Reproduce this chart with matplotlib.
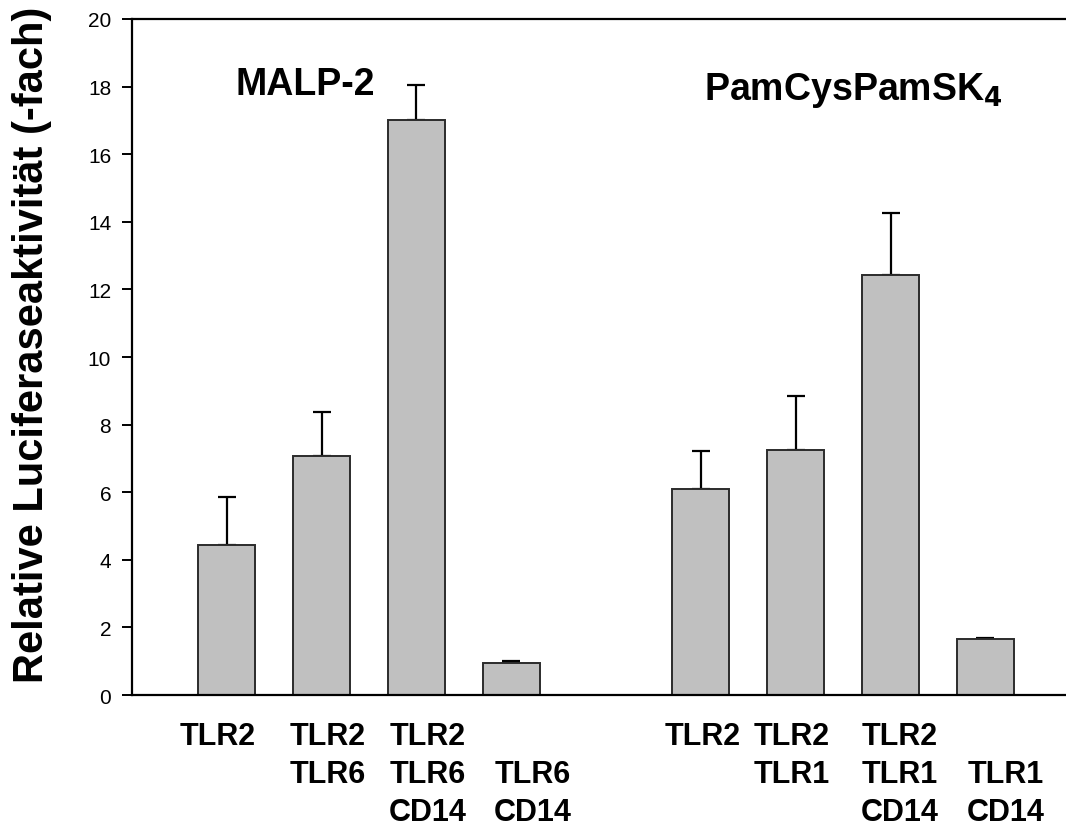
import matplotlib.pyplot as plt
import numpy as np

plt.rcParams['font.family'] = ['Liberation Sans', 'DejaVu Sans']

# Balken-Positionen (zwei Gruppen mit Lücke dazwischen)
positions = [0, 1, 2, 3, 5, 6, 7, 8]
means = [4.45, 7.07, 17.02, 0.95, 6.1, 7.25, 12.42, 1.65]
errors = [1.42, 1.30, 1.04, 0.05, 1.12, 1.59, 1.85, 0.05]

labels = ['TLR2', 'TLR2\nTLR6', 'TLR2\nTLR6\nCD14', '\nTLR6\nCD14',
          'TLR2', 'TLR2\nTLR1', 'TLR2\nTLR1\nCD14', '\nTLR1\nCD14']
label_shift = [-0.10, 0.06, 0.12, 0.23, 0.02, -0.04, 0.10, 0.21]

fig = plt.figure(figsize=(10.66, 8.29), dpi=100)
ax = fig.add_axes([0.1238, 0.1604, 0.8762, 0.8155])

ax.bar(positions, means, width=0.6, color='#c0c0c0', edgecolor='#2b2b2b',
       linewidth=1.4, zorder=2)
ax.errorbar(positions, means, yerr=[np.zeros(len(errors)), errors], fmt='none',
            ecolor='black', elinewidth=1.6, capsize=6.5, capthick=1.6, zorder=1)

ax.set_xlim(-1, 8.85)
ax.set_ylim(0, 20)
ax.set_yticks(range(0, 21, 2))
ax.tick_params(axis='y', direction='out', length=7, width=1.4, labelsize=15, pad=8)
ax.set_xticks([])

for s in ['left', 'top', 'bottom']:
    ax.spines[s].set_linewidth(1.6)
ax.spines['right'].set_visible(False)

# Beschriftung unter den Balken
trans = ax.get_xaxis_transform()
for x, lab, dx in zip(positions, labels, label_shift):
    ax.text(x + dx, -0.038, lab, transform=trans, ha='center', va='top',
            fontsize=22, fontweight='bold', linespacing=1.36)

ax.text(0.186, 0.904, 'MALP-2', transform=ax.transAxes, fontsize=27,
        fontweight='bold', ha='center', va='center')
ax.text(0.772, 0.895, 'PamCysPamSK$_\\mathbf{4}$', transform=ax.transAxes,
        fontsize=27, fontweight='bold', ha='center', va='center')

fig.text(0.030, 0.584, 'Relative Luciferaseaktivität (-fach)', rotation=90,
         fontsize=30, fontweight='bold', ha='center', va='center')

plt.savefig('out.png', dpi=100)
